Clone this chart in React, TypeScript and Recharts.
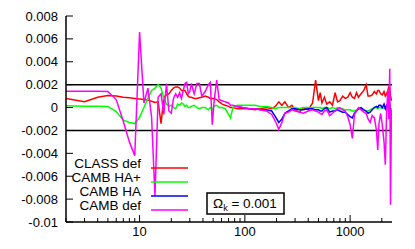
import { LineChart, Line, XAxis, YAxis, ReferenceLine } from "recharts";

// multipole values (log axis)
const ell = [
  2, 3, 4, 5, 6, 7, 8, 9, 10,
  11, 12, 13, 14, 15, 16, 17, 18, 19, 20,
  21, 22, 23, 24, 25, 26, 27, 28, 29, 30,
  31, 33, 35, 37, 39, 42, 45, 47, 49, 51, 54, 57, 61, 65, 70, 73, 77, 85, 95,
  110, 125, 140, 160, 180, 195, 210, 225, 240, 260, 280, 300, 330, 360, 400,
  440, 470, 500, 520, 540, 570, 600, 640, 680, 720, 760, 800, 850, 900, 950,
  1000, 1050, 1100, 1150, 1200, 1270, 1350, 1420, 1480, 1550, 1620, 1700, 1780,
  1830, 1880, 1950, 2020, 2100, 2160, 2220, 2280, 2330, 2380, 2420, 2470, 2500,
];

// relative differences, in units of 1e-3
const classDef = [
  0.8, 0.5, 0.9, 1.05, 1.0, 0.9, 0.85, 0.8, 0.75,
  0.7, 0.65, 0.55, 0.45, 0.5, -1.4, 0.9, 1.1, 1.2, 1.5,
  1.7, 1.8, 1.8, 1.7, 1.5, 1.5, 1.5, 1.2, 1.0, 0.9,
  0.9, 0.8, 0.8, 0.85, 0.9, 1.0, 0.9, 0.8, 0.8, 0.8, 0.7, 0.5, 0.3, 0.2, 0.1, 0.0, 0.0, -0.1, -0.1,
  -0.1, -0.2, -0.1, 0.0, -0.1, 0.1, 0.5, 0.2, 0.5, 0.0, 0.2, -0.2, -0.4, 0.0, -0.2,
  0.4, 2.4, 0.6, 1.3, 0.4, 0.9, 0.3, 0.5, 0.2, 1.3, 0.5, 0.6, 1.0, 0.8, 0.9,
  1.3, 0.9, 0.8, 1.3, 0.9, 1.2, 1.5, 2.0, 1.0, 1.0, 1.1, 1.4, 1.2,
  1.5, 1.5, 1.2, 1.1, 1.4, 1.0, 1.2, 1.5, 1.8, 1.7, 1.0, 0.6, 0.8,
];

const cambHAplus = [
  0.15, 0.12, 0.12, 0.1, -0.35, -1.1, -1.3, -1.4, -0.85,
  0.0, 0.8, 1.5, 1.7, 2.0, 1.7, 0.8, 0.3, 0.1, 0.2,
  0.0, -0.1, 0.3, 0.2, 0.4, 0.3, 0.1, 0.2, 0.0, 0.0,
  0.1, 0.2, 0.0, -0.1, 0.0, 0.0, -0.2, 0.0, -0.2, 0.1, 0.2, 0.0, 0.0, -0.1, -0.6, -0.9, 0.0, 0.2, 0.2,
  0.2, 0.2, 0.1, 0.1, 0.0, -0.1, 0.0, 0.0, 0.0, 0.0, 0.0, 0.0, -0.1, 0.0, 0.0,
  0.0, 0.0, 0.0, 0.0, -0.1, 0.0, 0.0, -0.1, 0.0, -0.1, 0.0, -0.1, -0.1, -0.2, -0.2,
  -0.2, -0.3, -0.3, -0.2, -0.1, -0.1, -0.2, -0.3, -0.3, -0.2, -0.1, 0.0, 0.0,
  -0.1, 0.0, 0.0, -0.1, 0.0, -0.1, 0.0, 0.0, -0.1, 0.0, -0.2, -0.1, -0.1,
];

// CAMB HA sits under CAMB def at low multipoles
const cambHA = [
  null, null, null, null, null, null, null, null, null,
  null, null, null, null, null, null, null, null, null, null,
  null, null, null, null, null, null, null, null, null, null,
  null, null, null, null, null, null, null, null, null, null, null, null, null, null, null, null, null, 0.1, 0.0,
  -0.1, -0.1, -0.2, -0.2, -0.3, -0.8, -1.3, -1.0, -0.5, -0.3, -0.1, -0.1, -0.2, -0.2, -0.1,
  -0.1, -0.2, -0.2, -0.3, -0.3, -0.1, 0.0, -0.4, -0.3, -0.3, -0.2, -0.3, -0.4, -0.4, -0.6,
  -0.8, -0.9, -0.5, -0.3, -0.1, 0.0, -0.2, -0.3, -0.5, -0.4, -0.2, 0.0, 0.1,
  0.0, 0.2, 0.2, 0.0, 0.3, -0.1, 0.2, 0.1, 0.3, 0.3, -0.8, -0.3, -0.5,
];

const cambDef = [
  1.43, 1.43, 1.43, 1.4, 0.7, -1.2, -3.0, -4.2, 6.6,
  0.4, 1.7, -0.8, -7.7, 0.9, 1.2, -0.6, 2.1, -0.3, -0.5,
  0.8, 1.2, 0.9, 1.3, 0.8, 1.5, 2.1, 2.2, 1.2, 1.4,
  2.1, 1.2, 2.1, 2.1, 1.0, 1.4, 2.0, 2.2, -1.5, 0.5, 2.4, 0.7, 0.6, 0.5, 0.4, 0.2, 0.2, 0.1, 0.0,
  -0.1, -0.1, -0.2, -0.3, -0.6, -1.2, -1.9, -1.3, -0.5, -0.4, -0.2, -0.3, -0.4, -0.5, -0.3,
  -0.2, -0.3, -0.4, -0.5, -0.6, -0.3, -0.2, -0.7, -0.5, -0.3, -0.1, 0.0, -0.2, -0.3, -0.8,
  -1.5, -2.7, -0.6, -0.3, 0.0, -0.2, -0.4, -0.5, -1.0, -1.3, -0.7, -0.9, -2.0,
  -3.7, -1.4, -0.5, -1.5, -3.0, -5.0, -0.5, 1.5, -1.0, 3.4, -8.5, -0.2, -1.0,
];

const xTicks = [
  2, 3, 4, 5, 6, 7, 8, 9, 10, 20, 30, 40, 50, 60, 70, 80, 90,
  100, 200, 300, 400, 500, 600, 700, 800, 900, 1000, 2000,
];
const xLabels = [10, 100, 1000];
const yTicks = [-0.01, -0.008, -0.006, -0.004, -0.002, 0, 0.002, 0.004, 0.006, 0.008];
const bands = [0.002, -0.002];

const series = [
  { key: "classDef", name: "CLASS def", color: "#ff0000", values: classDef },
  { key: "cambHAplus", name: "CAMB HA+", color: "#00ff00", values: cambHAplus },
  { key: "cambHA", name: "CAMB HA", color: "#0000ff", values: cambHA },
  { key: "cambDef", name: "CAMB def", color: "#ff00ff", values: cambDef },
];

const data = ell.map((l, i) => {
  const row: Record<string, number | null> = { ell: l };
  series.forEach((s) => {
    const v = s.values[i];
    row[s.key] = v == null ? null : v * 1e-3;
  });
  return row;
});

const FONT = "'Liberation Sans', Arial, Helvetica, sans-serif";
const W = 415;
const H = 249;

const fmtY = (v: number) => (v === 0 ? "0" : String(Number(v.toFixed(3))));

function BottomTick(props: any) {
  const { x, y, payload } = props;
  const major = xLabels.includes(payload.value);
  return (
    <g>
      <line x1={x} x2={x} y1={y} y2={y - (major ? 7 : 4)} stroke="#000" strokeWidth={1} />
      {major && (
        <text x={x} y={y + 14} textAnchor="middle" fontSize={13} fontFamily={FONT} fill="#000">
          {payload.value}
        </text>
      )}
    </g>
  );
}

function TopTick(props: any) {
  const { x, y, payload } = props;
  const major = xLabels.includes(payload.value);
  return <line x1={x} x2={x} y1={y} y2={y + (major ? 7 : 4)} stroke="#000" strokeWidth={1} />;
}

function LeftTick(props: any) {
  const { x, y, payload } = props;
  return (
    <g>
      <line x1={x} x2={x + 7} y1={y} y2={y} stroke="#000" strokeWidth={1} />
      <text x={x - 8} y={y + 4.5} textAnchor="end" fontSize={13} fontFamily={FONT} fill="#000">
        {fmtY(payload.value)}
      </text>
    </g>
  );
}

function RightTick(props: any) {
  const { x, y } = props;
  return <line x1={x} x2={x - 7} y1={y} y2={y} stroke="#000" strokeWidth={1} />;
}

export default function App() {
  return (
    <div style={{ position: "absolute", left: 0, top: 0, width: W, height: H, background: "#fff" }}>
      <LineChart
        width={W}
        height={H}
        data={data}
        margin={{ top: 16, right: 23, bottom: 0, left: 0 }}
      >
        <XAxis
          dataKey="ell"
          type="number"
          scale="log"
          domain={[2, 2500]}
          allowDataOverflow
          ticks={xTicks}
          interval={0}
          height={27}
          tickSize={0}
          tickMargin={0}
          axisLine={{ stroke: "#000", strokeWidth: 1.5 }}
          tick={<BottomTick />}
        />
        <XAxis
          xAxisId="top"
          dataKey="ell"
          type="number"
          scale="log"
          orientation="top"
          domain={[2, 2500]}
          allowDataOverflow
          ticks={xTicks}
          interval={0}
          height={0}
          tickSize={0}
          tickMargin={0}
          axisLine={{ stroke: "#000", strokeWidth: 1.5 }}
          tick={<TopTick />}
        />
        <YAxis
          type="number"
          domain={[-0.01, 0.008]}
          allowDataOverflow
          ticks={yTicks}
          interval={0}
          width={66}
          tickSize={0}
          tickMargin={0}
          axisLine={{ stroke: "#000", strokeWidth: 1.5 }}
          tick={<LeftTick />}
        />
        <YAxis
          yAxisId="right"
          orientation="right"
          type="number"
          domain={[-0.01, 0.008]}
          allowDataOverflow
          ticks={yTicks}
          interval={0}
          width={0}
          tickSize={0}
          tickMargin={0}
          axisLine={{ stroke: "#000", strokeWidth: 1.5 }}
          tick={<RightTick />}
        />
        {bands.map((b) => (
          <ReferenceLine key={b} y={b} stroke="#000" strokeWidth={1.5} />
        ))}
        {series.map((s) => (
          <Line
            key={s.key}
            dataKey={s.key}
            name={s.name}
            type="linear"
            stroke={s.color}
            strokeWidth={1.5}
            dot={false}
            isAnimationActive={false}
          />
        ))}
      </LineChart>
      <svg
        width={W}
        height={H}
        style={{ position: "absolute", left: 0, top: 0, pointerEvents: "none" }}
      >
        {series.map((s, i) => (
          <g key={s.key}>
            <text x={141} y={168 + i * 14} textAnchor="end" fontSize={13.5} fontFamily={FONT} fill="#000">
              {s.name}
            </text>
            <line x1={151} x2={188} y1={168 + i * 14} y2={168 + i * 14} stroke={s.color} strokeWidth={1.5} />
          </g>
        ))}
        <rect x={207} y={193} width={77} height={21} fill="#fff" stroke="#000" strokeWidth={1.5} />
        <text x={245} y={208} textAnchor="middle" fontSize={13.5} fontFamily={FONT} fill="#000">
          Ω<tspan fontSize={9} dy={3}>k</tspan>
          <tspan dy={-3}> = 0.001</tspan>
        </text>
      </svg>
    </div>
  );
}
